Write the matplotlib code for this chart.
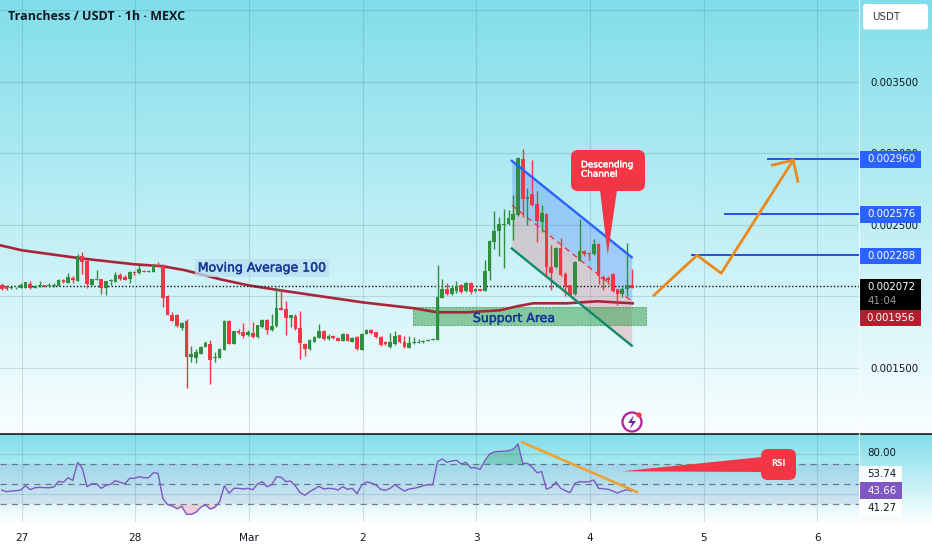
import matplotlib
matplotlib.use('Agg')
import matplotlib.pyplot as plt
import matplotlib.patheffects as pe
import numpy as np
from matplotlib.patches import FancyBboxPatch, Polygon, Circle, Rectangle

# hourly candles, millionths of USDT, first candle is 4h before Feb 27
opens = [2083,2076,2057,2057,2062,2062,2085,2062,2073,2078,
         2073,2073,2073,2115,2097,2132,2108,2281,2248,2080,
         2115,2120,2062,2108,2101,2153,2139,2120,2171,2162,
         2181,2174,2171,2223,2216,2006,1870,1870,1782,1826,
         1576,1572,1600,1649,1670,1569,1572,
         1628,1831,1667,1756,1749,1728,1747,1716,1784,1838,
         1763,1791,1922,1915,1849,1866,1782,1670,1632,1681,
         1712,1758,1702,1721,1712,1688,1735,1684,1716,1628,
         1737,1768,1749,1719,1681,1646,1665,1728,1681,1639,
         1672,1677,1679,1691,1698,1698,
         1992,2050,2015,2038,2080,2038,2094,2038,2050,2038,
         2176,2384,2458,2500,2505,2533,2566,2960,2682,2713,
         2645,2521,2575,2206,2206,2337,2155,2078,2015,2248,
         2318,2307,2295,2367,2136,2129,2160,2050,2015,2055,2083]
closes = [2055,2052,2064,2062,2083,2099,2059,2076,2078,2073,
          2083,2083,2113,2101,2136,2115,2281,2239,2085,2120,
          2122,2062,2106,2113,2153,2122,2115,2171,2162,2190,
          2171,2178,2223,2216,1992,1870,1828,1791,1817,1576,
          1595,1609,1649,1674,1553,1579,1635,
          1826,1667,1756,1742,1721,1751,1716,1798,1838,1763,
          1796,1922,1908,1849,1868,1770,1674,1632,1698,1719,
          1758,1700,1723,1709,1688,1735,1688,1709,1632,1740,
          1768,1744,1714,1660,1667,1684,1726,1681,1644,1672,
          1679,1681,1686,1698,1702,1996,
          2050,2017,2059,2076,2029,2094,2034,2055,2041,2176,
          2388,2456,2505,2510,2547,2575,2965,2678,2696,2636,
          2528,2580,2206,2164,2339,2148,2071,2013,2244,2316,
          2295,2295,2370,2143,2125,2113,2038,2020,2055,2083,2062]
highs = [2094,2083,2069,2066,2094,2101,2111,2080,2106,2083,
         2094,2094,2122,2120,2162,2141,2300,2314,2258,2125,
         2188,2122,2108,2122,2174,2164,2148,2181,2178,2218,
         2185,2183,2227,2239,2230,2010,1891,1875,1821,1845,
         1651,1632,1653,1686,1693,1611,1639,
         1838,1838,1761,1772,1817,1768,1819,1803,1842,1842,
         1880,2066,2055,1968,1868,1880,1896,1674,1702,1721,
         1805,1763,1735,1728,1716,1744,1740,1716,1721,1744,
         1772,1772,1754,1723,1686,1744,1756,1733,1721,1721,
         1716,1700,1698,1705,1707,2218,
         2125,2097,2083,2106,2090,2101,2101,2059,2055,2253,
         2398,2596,2556,2608,2603,2708,2972,3028,2755,2953,
         2738,2638,2580,2363,2346,2407,2174,2083,2248,2545,
         2328,2311,2405,2372,2148,2141,2164,2055,2066,2374,2190]
lows = [2043,2043,2050,2052,2057,2059,2055,2057,2069,2069,
        2069,2066,2071,2097,2094,2094,2106,2155,2059,2078,
        2113,2020,2013,2083,2099,2113,2113,2094,2148,2155,
        2169,2171,2169,2211,1926,1868,1826,1789,1768,1359,
        1544,1537,1595,1646,1387,1539,1567,
        1623,1665,1665,1737,1707,1723,1712,1712,1779,1737,
        1761,1789,1908,1730,1786,1768,1565,1586,1628,1679,
        1709,1695,1698,1702,1686,1686,1686,1679,1628,1623,
        1735,1740,1712,1656,1658,1642,1660,1677,1639,1637,
        1667,1672,1677,1688,1693,1693,
        1987,2013,2010,2022,2024,2034,2020,2034,2036,2036,
        2118,2335,2286,2199,2500,2393,2561,2556,2498,2631,
        2379,2451,2136,2043,2202,2146,2001,2008,2010,2246,
        2283,2253,2290,2090,2043,2085,2034,1938,1996,2001,2057]

rsi_values = [44,42.3,43,43.3,44,48.3,44.3,46.3,46.7,46.3,
              46.3,47,52.7,51.7,56.3,53.7,71.7,65.7,47.3,50.3,
              50.3,45.7,48.7,49.7,53.3,51.7,50.3,55.7,55.7,57.3,
              56.3,56.3,61.3,60.7,35.7,29.3,28,25.3,27.7,19.7,
              19.7,21.7,26.7,29,25,26.7,32.3,48.3,40.7,45.7,
              45.7,45,45.7,44.3,50,52.3,47.3,49.3,57.3,56.7,
              52.3,53,48,41.3,38.7,42.3,45,47.7,45,45.7,
              45.3,44,47.3,44.7,45.7,40.3,49,52,51,49,
              44.7,43.7,45.7,49.3,46,43,45,45.7,46.7,48.3,
              49.3,49.3,72.3,75,71.7,73,73.7,70,71.7,66.3,
              66.3,64.7,73.3,80,82,82.7,82.7,83.3,84.7,90,
              70.7,70.7,66.7,61.3,62.3,44.7,46.7,52,45.7,43.3,
              41.3,50.7,52.3,52,52.3,54,45.7,45.3,44.7,43,
              41,43,44.3,43]

# moving average 100 knots
ma_hours = [-4.6,0,12.3,23.7,29.8,34.5,41.9,47.8,54.5,71.9,82.9,87.7,94,101,104.6,108,115.2,121.5,129]
ma_values = [2358,2323,2267,2225,2211,2183,2120,2078,2043,1959,1917,1889,1889,1903,1931,1952,1952,1966,1952]

# drawings
channel_hours = [103.5, 128.8]
channel_upper = [2948, 2274]
channel_mid = [2638, 1966]
channel_lower = [2335, 1656]
support_hours = [82.7, 131.8]
support_range = [1803, 1926]
level_prices = [2288, 2576, 2960]
level_starts = [141.6, 148.5, 157.6]
path_hours = [133.5, 142.6, 147.7, 162.9]
path_prices = [2008, 2288, 2162, 2953]
head_hours = [158.5, 162.9, 163.9]
head_prices = [2918, 2953, 2806]
rsi_trend_hours = [105.7, 129.9]
rsi_trend_values = [91.7, 42]

last_price = 2072
price_ticks = [1500, 2000, 2500, 3000, 3500, 4000]
day_ticks = [0, 24, 48, 72, 96, 120, 144, 168]
day_labels = ['27', '28', 'Mar', '2', '3', '4', '5', '6']

GREEN = '#2f8f3f'
RED = '#f23645'
BLUE = '#2450e0'
ORANGE = '#ea8a1c'
PURPLE = '#7e57c2'
TEXT = '#131722'

W, H = 932, 550
fig = plt.figure(figsize=(W / 100, H / 100), dpi=100)

def pane(left, top, right, bottom, **kw):
    return fig.add_axes([left / W, 1 - bottom / H, (right - left) / W, (bottom - top) / H], **kw)

# background gradients
bg = pane(0, 0, W, H)
grad = np.ones((H, 1, 3))
c0 = np.array([128, 222, 234]) / 255
c1 = np.array([250, 254, 255]) / 255
for r in range(434):
    grad[r, 0] = c0 + (c1 - c0) * r / 434
for r in range(434, 524):
    grad[r, 0] = c0 + (np.array([1, 1, 1]) - c0) * (r - 434) / 90
bg.imshow(grad, aspect='auto', extent=(0, W, H, 0))
bg.axis('off')

hours = np.arange(len(opens)) - 4.2
o = np.array(opens) / 1e6
c = np.array(closes) / 1e6
hi = np.array(highs) / 1e6
lo = np.array(lows) / 1e6
rsi = np.array(rsi_values)
colors = [GREEN if b >= a else RED for a, b in zip(o, c)]

XLIM = (-4.58, 176.8)

# price pane
ax = pane(0, 0, 859, 434)
ax.patch.set_alpha(0)
ax.yaxis.tick_right()
ax.set_yticks(np.array(price_ticks) / 1e6)
ax.set_yticklabels(['' if p == 4000 else f'{p / 1e6:.6f}' for p in price_ticks],
                   fontsize=7.4, color=TEXT)
ax.tick_params(axis='y', length=0, pad=8)
ax.set_xticks(day_ticks)
ax.tick_params(axis='x', length=0, labelbottom=False)
ax.set_xlim(*XLIM)
ax.set_ylim(1038e-6, 4073e-6)
ax.grid(True, color='#3f6f7c', alpha=0.2, lw=0.8)
ax.set_axisbelow(True)
for s in ax.spines.values():
    s.set_visible(False)

# channel
ch_x = np.array(channel_hours)
ch_u = np.array(channel_upper) / 1e6
ch_m = np.array(channel_mid) / 1e6
ch_l = np.array(channel_lower) / 1e6
ax.fill_between(ch_x, ch_m, ch_u, color='#2962ff', alpha=0.25, lw=0, zorder=1)
ax.fill_between(ch_x, ch_l, ch_m, color=RED, alpha=0.2, lw=0, zorder=1)

# support
ax.add_patch(Rectangle((support_hours[0], support_range[0] / 1e6), support_hours[1] - support_hours[0],
                       (support_range[1] - support_range[0]) / 1e6, facecolor='#3fa554', alpha=0.55,
                       edgecolor='#2e7d32', ls=(0, (2, 1)), lw=0.8, zorder=1.5))

ax.plot(ma_hours, np.array(ma_values) / 1e6, color='#a92539', lw=1.9, zorder=2)
ax.axhline(last_price / 1e6, color='#111111', lw=1, ls=(0, (1, 1.5)), zorder=2)

ax.vlines(hours, lo, hi, colors=colors, lw=1, zorder=3)
ax.bar(hours, np.abs(c - o), bottom=np.minimum(o, c), width=0.78, color=colors, lw=0, zorder=3.5)

ax.plot(ch_x, ch_u, color='#2962ff', lw=1.7, zorder=4)
ax.plot(ch_x, ch_m, color=RED, lw=1, ls=(0, (4, 3)), zorder=2.5)
ax.plot(ch_x, ch_l, color='#0f8a6a', lw=1.7, zorder=4)

for st, p in zip(level_starts, level_prices):
    ax.plot([st, XLIM[1]], [p / 1e6, p / 1e6], color=BLUE, lw=1.4, zorder=4)

ax.plot(path_hours, np.array(path_prices) / 1e6, color=ORANGE, lw=2, zorder=5)
ax.plot(head_hours, np.array(head_prices) / 1e6, color=ORANGE, lw=2, zorder=5)

# rsi pane
ax2 = pane(0, 434, 859, 522)
ax2.patch.set_alpha(0)
ax2.set_xticks(day_ticks)
ax2.set_xticklabels(day_labels, fontsize=7.6, color=TEXT)
ax2.tick_params(axis='x', length=0, pad=8)
ax2.set_yticks([40, 80])
ax2.tick_params(axis='y', length=0, labelleft=False)
ax2.set_xlim(*XLIM)
ax2.set_ylim(12, 100)
ax2.grid(True, color='#3f6f7c', alpha=0.2, lw=0.8)
ax2.set_axisbelow(True)
for s in ax2.spines.values():
    s.set_visible(False)
ax2.axhspan(30, 70, color='#5c6bc0', alpha=0.13, lw=0)
for v in (70, 50, 30):
    ax2.axhline(v, color='#4d5b63', lw=0.9, ls=(0, (5, 4)), alpha=0.75)
ax2.fill_between(hours, 70, rsi, where=(rsi > 70) & (hours > 96), interpolate=True,
                 color='#2e9e6a', alpha=0.35, lw=0)
ax2.fill_between(hours, 30, rsi, where=rsi < 30, interpolate=True, color='#f48fb1', alpha=0.4, lw=0)
ax2.plot(hours, rsi, color=PURPLE, lw=1)
ax2.plot(rsi_trend_hours, rsi_trend_values, color='#eda334', lw=1.9)

# overlay in pixels for labels and callouts
top = pane(0, 0, W, H)
top.patch.set_alpha(0)
top.set_xlim(0, W)
top.set_ylim(H, 0)
top.axis('off')

top.plot([0, W], [434, 434], color='#1a1a1a', lw=1.2)
top.plot([859, 859], [0, 434], color='white', lw=0.8, alpha=0.7)
top.plot([859, 859], [434, 522], color='white', lw=0.8, alpha=0.7)

top.text(8, 16, 'Tranchess / USDT · 1h · MEXC', fontsize=9, fontweight='bold', color=TEXT,
         family='Open Sans', va='center')

top.add_patch(FancyBboxPatch((865, 6), 61, 21.5, boxstyle='round,pad=2,rounding_size=3', fc='white', ec='none'))
top.text(872, 17, 'USDT', fontsize=7.4, color='#333a45', va='center')

def price_tag(y0, y1, color, label, tc='white'):
    top.add_patch(Rectangle((860, y0), 61, y1 - y0, fc=color, ec='none'))
    top.text(891, (y0 + y1) / 2, label, color=tc, fontsize=7.4, ha='center', va='center')

price_tag(151, 168, '#2962ff', '0.002960')
price_tag(206, 222.7, '#2962ff', '0.002576')
price_tag(247.7, 264, '#2962ff', '0.002288')
top.add_patch(Rectangle((860, 279), 61, 31, fc='black', ec='none'))
top.text(891, 287, '0.002072', color='white', fontsize=7.4, ha='center', va='center')
top.text(882, 301.5, '41:04', color='#9a9a9a', fontsize=7.4, ha='center', va='center')
price_tag(309.5, 325.7, '#b2202e', '0.001956')

top.add_patch(Rectangle((859, 466), 43, 50, fc='white', ec='none', alpha=0.9))
top.add_patch(Rectangle((860, 482), 42, 16.7, fc=PURPLE, ec='none'))
top.text(882, 453.5, '80.00', color=TEXT, fontsize=7.4, ha='center', va='center')
top.text(882, 473.7, '53.74', color=TEXT, fontsize=7.4, ha='center', va='center')
top.text(882, 491, '43.66', color='white', fontsize=7.4, ha='center', va='center')
top.text(882, 507.7, '41.27', color=TEXT, fontsize=7.4, ha='center', va='center')

heavy = [pe.withStroke(linewidth=0.35, foreground='#173a94')]
top.text(262, 268, 'Moving Average 100', fontsize=9, color='#173a94', ha='center', va='center',
         path_effects=heavy, bbox=dict(fc='#b9dff2', ec='none', alpha=0.75, pad=2))
top.text(514, 318.5, 'Support Area', fontsize=9, color='#173a94', ha='center', va='center', path_effects=heavy)

# descending channel callout
top.add_patch(FancyBboxPatch((575, 154), 66, 33, boxstyle='round,pad=4,rounding_size=7', fc=RED, ec='none'))
top.add_patch(Polygon([(600, 190), (617, 190), (607.7, 255)], closed=True, fc=RED, ec='none'))
top.text(581, 169.5, 'Descending\nChannel', color='white', fontsize=6.4, va='center', linespacing=1.05,
         path_effects=[pe.withStroke(linewidth=0.3, foreground='white')])

# rsi callout
top.add_patch(FancyBboxPatch((765, 453), 27, 23, boxstyle='round,pad=4,rounding_size=7', fc=RED, ec='none'))
top.add_patch(Polygon([(765, 456.7), (765, 472), (622, 471.3)], closed=True, fc=RED, ec='none'))
top.text(778, 464, 'RSI', color='white', fontsize=5.6, ha='center', va='center', fontweight='bold')

# little event marker
top.add_patch(Circle((632, 422), 9.5, fc='none', ec='#b0209a', lw=1.6))
top.add_patch(Polygon([(634, 415), (628, 423), (632, 423), (630, 429), (636, 421), (632, 421)],
                      closed=True, fc='#7b1fa2', ec='none'))
top.add_patch(Circle((639, 415), 2.6, fc=RED, ec='none'))

fig.savefig('out.png', dpi=100)
